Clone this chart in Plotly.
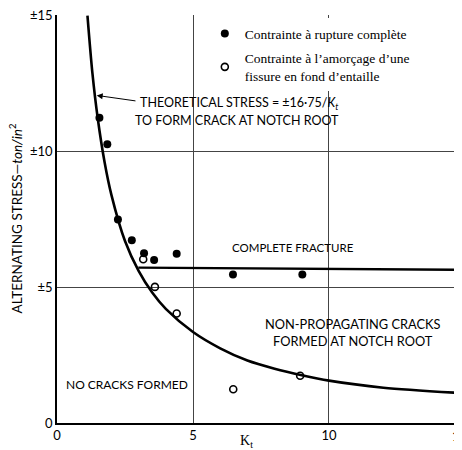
import plotly.graph_objects as go

# theoretical curve (stress = ±16.75 / Kt)
theory_kt = [1.12, 1.3, 1.5, 1.75, 2.0, 2.5, 3.0, 3.5, 4.0, 5.0, 6.0, 7.0, 8.0, 9.0, 10.0, 12.0, 14.89]
theory_stress = [15.0, 12.9, 11.2, 9.6, 8.4, 6.7, 5.6, 4.8, 4.2, 3.35, 2.75, 2.3, 2.0, 1.76, 1.56, 1.3, 1.1]

# complete fracture limit
fracture_kt = [2.99, 14.89]
fracture_stress = [5.72, 5.64]

# stress at complete fracture (filled dots)
filled_kt = [1.56, 1.85, 2.24, 2.75, 3.20, 3.57, 4.40, 6.47, 9.02, 14.85]
filled_stress = [11.24, 10.26, 7.49, 6.73, 6.25, 6.0, 6.23, 5.47, 5.47, 5.65]

# stress at crack initiation at notch root (open dots)
open_kt = [3.17, 3.60, 4.40, 6.48, 8.94]
open_stress = [6.03, 5.01, 4.03, 1.24, 1.74]

x_ticks = [0, 5, 10]
y_ticks = [0, 5, 10, 15]
y_tick_text = ["0", "±5", "±10", "±15"]

SANS = "Lato"
SERIF = "Liberation Serif"

fig = go.Figure()

fig.add_trace(go.Scatter(
    x=theory_kt, y=theory_stress, mode="lines",
    line=dict(color="black", width=2.6, shape="spline", smoothing=0.8),
    showlegend=False, hoverinfo="skip",
))
fig.add_trace(go.Scatter(
    x=fracture_kt, y=fracture_stress, mode="lines",
    line=dict(color="black", width=2.4),
    showlegend=False, hoverinfo="skip",
))
fig.add_trace(go.Scatter(
    x=filled_kt, y=filled_stress, mode="markers",
    name="Contrainte à rupture complète",
    legendgroup="a",
    marker=dict(symbol="circle", size=8, color="black"),
))
fig.add_trace(go.Scatter(
    x=open_kt, y=open_stress, mode="markers",
    name="Contrainte à l’amorçage d’une<br>fissure en fond d’entaille",
    legendgroup="b",
    marker=dict(symbol="circle-open", size=7, color="black", line=dict(width=1.6)),
))


def lab(size):
    return dict(family=SANS, size=size, color="black")


annotations = [
    dict(x=2.98, y=11.76, text="THEORETICAL STRESS = ±16·75/<i>K<sub>t</sub></i>",
         xanchor="left", showarrow=False, font=lab(12.5)),
    dict(x=2.79, y=11.14, text="TO FORM CRACK AT NOTCH ROOT",
         xanchor="left", showarrow=False, font=lab(12.5)),
    dict(x=1.46, y=12.06, ax=2.94, ay=11.85, axref="x", ayref="y", text="",
         showarrow=True, arrowhead=2, arrowsize=1.2, arrowwidth=1, arrowcolor="black"),
    dict(x=8.68, y=6.47, text="COMPLETE FRACTURE", showarrow=False, font=lab(11.5)),
    dict(x=10.88, y=3.35, text="NON-PROPAGATING CRACKS<br>FORMED AT NOTCH ROOT",
         showarrow=False, font=lab(12.8)),
    dict(x=2.57, y=1.43, text="NO CRACKS FORMED", showarrow=False, font=lab(12)),
    # x-axis title and the "15" tick, of which only the "1" shows at the cut right edge
    dict(x=0.467, y=-0.046, xref="paper", yref="paper", text="K<sub>t</sub>",
         xanchor="center", yanchor="middle",
         showarrow=False, font=dict(family=SERIF, size=14, color="black")),
    dict(x=1.0, y=-0.032, xref="paper", yref="paper", text="1",
         xanchor="right", yanchor="middle", showarrow=False, font=lab(13)),
    # y-axis title
    dict(x=-0.1, y=0.5, xref="paper", yref="paper", textangle=-90,
         xanchor="center", yanchor="middle",
         text="ALTERNATING STRESS—<i>ton/in</i><sup>2</sup>",
         showarrow=False, font=lab(13.5)),
]

# the page body adds an 8px offset, so the figure is 8px smaller than the window
fig.update_layout(
    width=454, height=442,
    margin=dict(l=49, r=0, t=7, b=27),
    plot_bgcolor="white", paper_bgcolor="white",
    font=dict(family=SANS, size=13, color="black"),
    annotations=annotations,
    showlegend=True,
    legend=dict(
        x=0.365, y=0.992, xanchor="left", yanchor="top",
        bgcolor="white", borderwidth=0,
        font=dict(family=SERIF, size=13.5, color="black"),
        traceorder="grouped", tracegroupgap=4,
    ),
    xaxis=dict(
        range=[0, 14.89], tickvals=x_ticks, ticks="",
        showgrid=True, gridcolor="#444", gridwidth=1,
        showline=True, linecolor="black", linewidth=1.5,
        zeroline=False, tickfont=lab(13), ticklabeloverflow="allow",
    ),
    yaxis=dict(
        range=[0, 15.02], tickvals=y_ticks, ticktext=y_tick_text, ticks="",
        showgrid=True, gridcolor="#444", gridwidth=1,
        showline=True, linecolor="black", linewidth=1.5,
        zeroline=False, tickfont=lab(13), ticklabeloverflow="allow",
    ),
)

fig.write_html("out.html")
